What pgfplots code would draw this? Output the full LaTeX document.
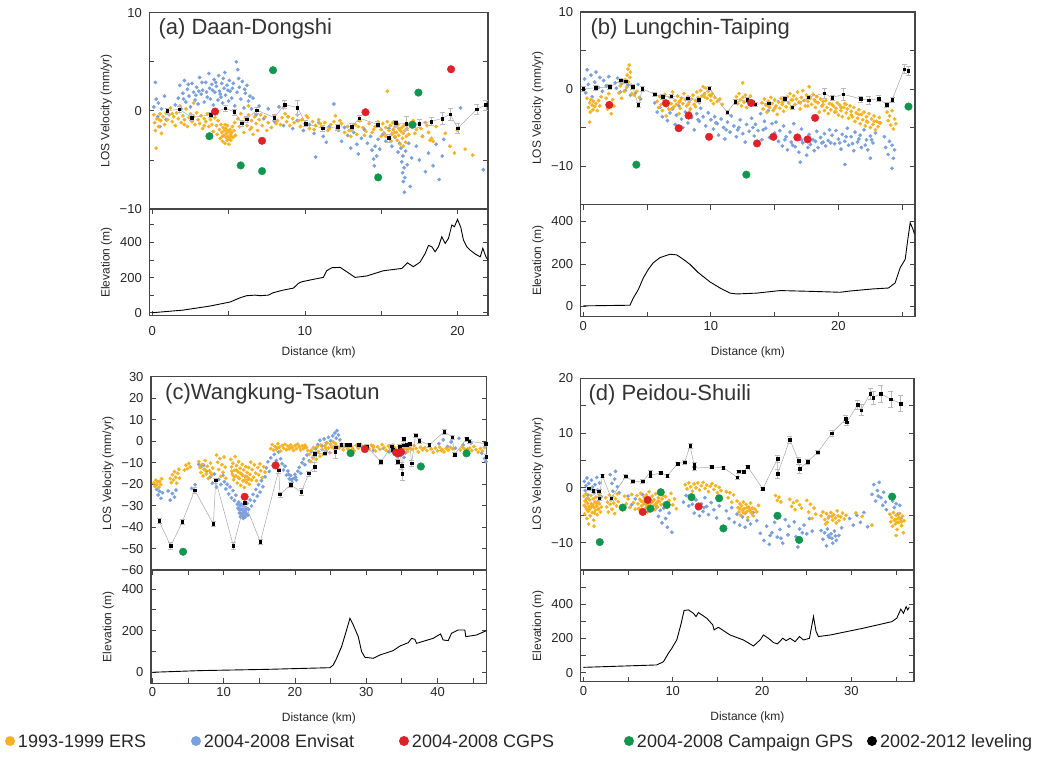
\documentclass[border=0pt]{standalone}
\usepackage{fontspec}
\setmainfont{Liberation Sans}
\usepackage{pgfplots}
\pgfplotsset{compat=1.18}

\definecolor{ersc}{RGB}{246,178,36}
\definecolor{envc}{RGB}{122,160,222}
\definecolor{cgpsc}{RGB}{222,34,40}
\definecolor{campc}{RGB}{16,150,78}
\definecolor{framec}{RGB}{70,70,70}

\tikzset{ttl/.style={anchor=base west, font=\fontsize{22}{22}\selectfont, text=black!80}}
\pgfplotsset{
  base/.style={scale only axis, clip mode=individual,
    axis line style={framec, line width=1.2pt},
    tick style={framec, line width=0.8pt},
    major tick length=5pt, minor tick length=5pt, tick align=inside,
    xtick pos=both, ytick pos=both,
    ticklabel style={font=\fontsize{13}{13}\selectfont, text=black!85},
    label style={font=\fontsize{12}{12}\selectfont, text=black!85},
    /pgf/number format/assume math mode=true,
    yticklabel shift=4pt, ylabel shift=1pt},
  los/.style={base, xtick=\empty, ylabel={LOS Velocity (mm/yr)}},
  elev/.style={base, ylabel={Elevation (m)}, xlabel={Distance (km)}, xlabel shift=9pt},
  ers/.style={only marks, mark=*, mark size=1.7pt, color=ersc},
  env/.style={only marks, mark=*, mark size=1.7pt, color=envc},
  cg/.style={only marks, mark=*, mark size=3.8pt, color=cgpsc},
  camp/.style={only marks, mark=*, mark size=3.8pt, color=campc},
  lev/.style={color=gray!70, line width=0.5pt, mark=square*, mark size=1.3pt,
    mark options={fill=black, draw=black},
    error bars/.cd, y dir=both, y explicit,
    error bar style={gray!55, line width=0.5pt},
    error mark options={rotate=90, gray!55, mark size=2.5pt, line width=0.5pt}},
  prof/.style={black, line width=0.9pt},
}

\begin{document}
\begin{tikzpicture}
\useasboundingbox (0pt,0pt) rectangle (1051pt,-756pt);

% ---------- (a) Daan-Dongshi ----------
\begin{axis}[los, at={(149.3pt,-12.7pt)}, anchor=north west, width=338.7pt, height=196.3pt,
  xmin=-0.2, xmax=22, ymin=-10, ymax=10, ytick={-10,0,10}, yticklabels={−10,0,10}, minor ytick={-5,5}]
\addplot[env] coordinates {(0.1,0.4) (0.2,2.9) (0.25,1.2) (0.35,-0.6) (0.4,0.8) (0.5,-1.6) (0.6,0.2) (0.8,1.5) (0.9,-0.9)
(1.5,0.6) (1.7,1.3) (1.8,2.6) (1.9,0.2) (2.0,1.8) (2.05,1.2) (2.1,3.1) (2.2,0.9) (2.3,2.2) (2.35,2.7) (2.4,1.5) (2.5,0.4) (2.6,2.8) (2.7,1.9) (2.8,1.1) (2.85,1.6) (2.9,2.4) (3.0,0.7) (3.05,2.0) (3.1,3.4) (3.2,1.7) (3.25,2.9) (3.3,2.1) (3.4,0.9) (3.5,2.9) (3.55,1.9) (3.6,1.4) (3.7,3.8) (3.75,2.3) (3.8,1.2) (3.9,2.7) (3.95,2.1) (4.0,0.6) (4.05,3.2) (4.1,1.9) (4.15,2.9) (4.2,2.5) (4.3,1.1) (4.35,3.6) (4.4,2.0) (4.45,1.7) (4.5,1.4) (4.55,2.8) (4.6,0.8) (4.65,3.3) (4.7,2.3) (4.75,3.9) (4.8,1.6) (4.9,2.6) (4.95,2.1) (5.0,1.0) (5.05,3.1) (5.1,2.0) (5.2,1.3) (5.25,2.3) (5.3,2.8) (5.4,0.5) (5.5,5.0) (5.55,1.9) (5.6,4.2) (5.65,3.3) (5.7,2.4) (5.8,1.2) (5.9,3.0) (6.0,0.3) (6.05,2.2) (6.1,1.8) (6.2,2.6) (6.3,1.0) (6.4,1.5) (6.5,0.2) (6.6,1.3) (6.8,-0.4) (7.0,0.5)
(7.3,-0.8) (7.6,0.2) (8.0,-1.1) (8.3,0.4) (8.6,-1.5) (8.9,-0.6) (9.2,-1.8) (9.5,-1.0) (9.9,-2.0) (10.3,-1.4) (10.6,-2.3) (10.7,-4.7) (10.9,-1.2) (11.2,-2.6) (11.4,-3.2) (11.6,-1.6) (11.9,0.7)
(12.2,-2.0) (12.4,-3.1) (12.6,-1.7) (12.8,-2.5) (13.0,-3.8) (13.2,-2.2) (13.4,-3.4) (13.5,-4.4) (13.7,-2.8) (13.9,-1.9)
(14.1,-3.3) (14.3,-2.6) (14.4,-4.0) (14.5,-4.9) (14.55,-5.6) (14.6,-3.6) (14.7,-4.6) (14.8,-2.9) (14.9,-3.9)
(15.1,-2.4) (15.3,-3.1) (15.5,-1.8) (15.7,-3.6) (15.9,-2.7) (16.1,-4.2) (16.2,-3.3)
(16.3,-3.8) (16.35,-5.2) (16.4,-6.3) (16.42,-4.6) (16.45,-7.2) (16.5,-5.8) (16.52,-8.3) (16.55,-6.8) (16.6,-4.1) (16.7,-5.5) (16.8,-3.3) (16.9,-7.7) (17.0,-4.8)
(17.3,-3.6) (17.5,-5.0) (17.7,-2.6) (17.9,-6.2) (18.1,-4.3) (18.4,-5.6) (18.6,-3.4) (18.8,-7.0) (19.0,-4.6) (19.1,-2.9) (20.2,0.3) (21.7,-6.0)};
\addplot[ers] coordinates {(0.1,-0.4) (0.15,-1.2) (0.2,-2.0) (0.25,-3.8) (0.3,-0.8) (0.4,-1.6) (0.45,-0.9) (0.5,-0.3) (0.55,-1.0) (0.6,-2.3) (0.7,-0.6) (0.8,-1.4) (0.9,-0.2) (1.0,-0.9)
(1.1,-0.4) (1.2,0.3) (1.3,-1.1) (1.3,-0.3) (1.4,-0.6) (1.5,-1.5) (1.6,-0.2) (1.7,-0.8) (1.8,0.5) (1.9,-1.2) (2.0,-0.5) (2.1,-0.9) (2.1,-1.4) (2.2,0.2) (2.3,-1.6) (2.4,-0.7) (2.5,-0.3) (2.6,-1.1) (2.7,-0.6) (2.7,0.8) (2.8,-1.4) (2.9,-0.2) (3.0,-0.9)
(3.1,-1.3) (3.2,-0.5) (3.3,-1.8) (3.4,-0.8) (3.4,-1.5) (3.5,-1.1) (3.6,-0.3) (3.7,-1.6) (3.8,-0.9) (3.9,-1.4) (4.0,-2.1)
(4.1,-0.7) (4.2,-1.5) (4.25,-2.4) (4.3,-1.0) (4.4,-1.9) (4.45,-2.8) (4.5,-1.4) (4.55,-2.2) (4.6,-3.1) (4.6,-2.6) (4.65,-1.7) (4.7,-2.5) (4.72,-2.0) (4.75,-3.3) (4.78,-1.4) (4.8,-1.8) (4.82,-2.7) (4.85,-2.3) (4.88,-2.0) (4.9,-3.0) (4.92,-1.5) (4.95,-2.6) (5.0,-2.1) (5.0,-2.9) (5.02,-3.4) (5.05,-2.8) (5.1,-1.9) (5.12,-2.4) (5.15,-3.0) (5.18,-2.6) (5.2,-2.2) (5.25,-1.6) (5.3,-2.7) (5.35,-2.0) (5.4,-1.2) (5.45,-2.5)
(5.6,-0.8) (5.7,-1.6) (5.8,-0.3) (5.9,-1.2) (6.0,-2.2) (6.1,-0.7) (6.2,-1.5) (6.3,-0.4) (6.3,0.5) (6.4,-1.9) (6.5,-1.0) (6.5,-1.7) (6.6,-2.4) (6.7,-0.6) (6.8,-1.3) (6.9,-2.0)
(7.0,-0.9) (7.1,-0.4) (7.2,-1.5) (7.4,-0.6) (7.5,-2.0) (7.6,-1.2) (7.8,-1.7)
(8.0,-0.5) (8.1,-1.3) (8.2,-1.0) (8.4,-1.4) (8.5,-0.7) (8.6,0.3) (8.7,-0.3) (8.8,-1.1) (8.9,-0.6) (9.0,-1.5) (9.2,-0.8) (9.3,-1.2) (9.5,-0.4) (9.6,-1.0) (9.7,-1.6) (9.8,-0.9) (10.0,-1.3) (10.1,-0.5) (10.2,-0.7) (10.3,-1.8) (10.5,-1.1) (10.6,-1.9) (10.7,-1.5) (10.9,-0.9)
(11.0,-1.3) (11.1,-1.6) (11.3,-1.2) (11.5,-2.0) (11.6,-1.8) (11.7,-1.4) (11.9,-1.1) (12.0,-0.5) (12.1,-1.8) (12.3,-1.0) (12.4,-1.3) (12.6,-2.2) (12.8,-1.6) (12.9,-2.0) (13.0,-2.6) (13.1,-1.9) (13.3,-1.4) (13.4,-2.4) (13.5,-1.6) (13.6,-1.0) (13.8,-1.7) (13.9,-2.5) (14.0,-2.1)
(14.2,-1.3) (14.4,-2.2) (14.5,-1.9) (14.6,-1.6) (14.8,-1.1) (15.0,-1.9) (15.0,-2.6) (15.4,2.0)
(15.1,-1.3) (15.2,-2.3) (15.3,-1.7) (15.3,-2.6) (15.4,-1.1) (15.5,-2.0) (15.55,-2.8) (15.6,-1.5) (15.65,-3.1) (15.7,-2.4) (15.75,-1.2) (15.8,-1.9) (15.85,-2.2) (15.9,-2.6) (15.95,-1.6) (16.0,-2.2) (16.05,-3.0) (16.1,-1.4) (16.15,-2.5) (16.15,-1.8) (16.2,-1.9) (16.25,-3.4) (16.3,-2.1) (16.35,-1.7) (16.4,-2.8) (16.45,-2.3) (16.45,-3.6) (16.5,-1.5) (16.55,-2.0) (16.6,-3.2) (16.65,-2.6) (16.7,-1.8) (16.75,-1.4) (16.8,-2.4) (16.9,-1.3)
(17.1,-1.0) (17.2,-2.3) (17.3,-1.9) (17.5,-1.4) (17.6,-1.8) (17.7,-2.6) (17.9,-1.2) (18.0,-1.5) (18.1,-2.2) (18.2,-3.0) (18.3,-2.8) (18.4,-3.1) (18.6,-1.6)
(19.2,-2.3) (19.5,-3.6) (19.8,-4.3) (20.0,-2.0) (20.5,-3.9) (21.0,-4.5)};
\addplot[lev] coordinates {(0.98,0) +- (0,0.3) (1.75,0.17) +- (0,0.3) (2.58,-0.68) +- (0,0.3) (3.83,-0.4) +- (0,0.3) (4.77,0.27) +- (0,0.3) (5.36,-0.1) +- (0,0.3) (5.86,-1.25) +- (0,0.3) (6.19,-0.85) +- (0,0.3) (6.84,0.07) +- (0,0.3) (8.0,-0.68) +- (0,0.3) (8.66,0.64) +- (0,0.4) (9.51,0.34) +- (0,0.7) (10.05,-1.29) +- (0,0.3) (11.15,-1.76) +- (0,0.3) (12.15,-1.63) +- (0,0.3) (13.07,-1.63) +- (0,0.4) (13.57,-0.75) +- (0,0.3) (14.78,-1.39) +- (0,0.3) (15.5,-2.75) +- (0,0.4) (15.96,-1.22) +- (0,0.3) (16.63,-1.29) +- (0,0.7) (17.5,-1.29) +- (0,0.4) (18.27,-1.08) +- (0,0.4) (18.99,-0.78) +- (0,0.6) (19.52,-0.34) +- (0,0.6) (20.02,-1.76) +- (0,0.5) (21.27,0.17) +- (0,0.5) (21.86,0.61) +- (0,0.5)};
\addplot[cg] coordinates {(4.11,-0.07) (7.19,-3.05) (13.97,-0.14) (19.58,4.24)};
\addplot[camp] coordinates {(3.74,-2.58) (7.91,4.14) (5.79,-5.56) (7.19,-6.14) (14.8,-6.78) (17.44,1.86) (17.05,-1.42)};
\node[ttl] at (rel axis cs:0,1) [xshift=5.7pt, yshift=-21.3pt] {(a) Daan-Dongshi};
\end{axis}
\begin{axis}[elev, at={(149.3pt,-209pt)}, anchor=north west, width=338.7pt, height=106.7pt,
  xmin=-0.2, xmax=22, ymin=-17, ymax=590, xtick={0,10,20}, minor xtick={5,15},
  ytick={0,200,400}, minor ytick={100,300,500}, xticklabel shift=7pt, xlabel shift=4pt]
\addplot[prof] coordinates {(0,0) (2.03,15) (3.78,38) (5.1,61) (5.75,85) (6.19,97) (6.73,100) (7.06,97) (7.6,100) (7.93,114) (8.59,129) (9.25,140) (9.57,167) (9.79,176) (10.56,190) (11.21,201) (11.43,239) (11.76,256) (12.31,258) (12.74,233) (13.29,201) (14.05,209) (15.15,239) (16.35,252) (16.72,284) (17.11,262) (17.55,288) (17.88,337) (18.1,383) (18.32,375) (18.53,347) (18.75,375) (18.97,432) (19.19,394) (19.41,423) (19.63,499) (19.8,489) (20.0,531) (20.22,485) (20.39,413) (20.61,375) (20.83,356) (21.16,334) (21.49,318) (21.66,366) (21.88,315) (22,300)};
\end{axis}

% ---------- (b) Lungchin-Taiping ----------
\begin{axis}[los, at={(580.7pt,-12pt)}, anchor=north west, width=334.3pt, height=192.5pt,
  xmin=-0.2, xmax=26, ymin=-15, ymax=10, ytick={-10,0,10}, yticklabels={−10,0,10}, minor ytick={-5,5}]
\addplot[env] coordinates {(0.1,1.3) (0.2,-0.5) (0.3,2.5) (0.4,0.6) (0.6,1.8) (0.7,-1.0) (0.9,0.9) (1.0,2.2) (1.2,0.2) (1.3,1.5) (1.5,-0.3) (1.6,1.1) (1.8,0.4) (2.0,1.6)
(2.5,0.8) (2.6,0.1) (2.7,1.4) (2.9,-0.4) (3.0,0.7) (3.2,1.1) (3.3,-0.2) (3.5,0.5) (3.7,-0.8) (3.9,0.3) (4.1,-0.5) (4.3,0.6) (4.5,-1.3)
(5.6,-1.8) (5.8,-3.0) (6.0,-2.4) (6.2,-3.6) (6.4,-2.0) (6.6,-4.1) (6.8,-3.1) (7.0,-2.6) (7.2,-4.6) (7.3,-3.4) (7.5,-2.2) (7.7,-3.9) (7.8,-5.0) (8.0,-3.0) (8.1,-3.6) (8.2,-4.4) (8.4,-2.6) (8.5,-3.7) (8.7,-5.3) (8.9,-3.2) (9.0,-4.0) (9.1,-4.2) (9.2,-2.5) (9.4,-3.6) (9.6,-4.8) (9.8,-3.1) (10.0,-4.0)
(10.2,-5.2) (10.3,-3.6) (10.4,-4.4) (10.5,-4.5) (10.6,-6.0) (10.8,-3.9) (11.0,-5.0) (11.1,-6.5) (11.2,-5.3) (11.3,-4.3) (11.5,-5.6) (11.6,-3.5) (11.8,-4.8) (12.0,-6.2) (12.1,-5.3) (12.2,-5.0) (12.3,-4.0) (12.5,-5.8) (12.7,-6.9) (12.8,-4.6)
(13.0,-5.5) (13.2,-3.8) (13.3,-5.0) (13.4,-6.1) (13.5,-4.6) (13.7,-5.4) (13.9,-3.2) (14.0,-6.6) (14.1,-5.3) (14.2,-4.2) (14.3,-5.1) (14.5,-2.8) (14.6,-6.3) (14.8,-4.5) (15.0,-5.7)
(15.1,-4.3) (15.3,-6.8) (15.4,-5.4) (15.6,-7.4) (15.7,-4.8) (15.8,-6.6) (15.9,-6.2) (16.0,-7.9) (16.2,-5.6) (16.3,-6.9) (16.4,-7.3) (16.5,-4.5) (16.6,-7.5) (16.8,-6.1) (16.9,-8.2) (17.0,-9.5) (17.1,-5.2) (17.1,-6.6) (17.2,-7.0) (17.4,-6.4) (17.5,-8.6) (17.6,-7.6) (17.7,-5.9) (17.8,-7.2) (18.0,-6.6) (18.1,-8.0) (18.2,-6.8) (18.3,-5.5) (18.4,-7.6) (18.6,-6.3) (18.7,-7.0) (18.8,-6.9) (18.9,-5.8) (19.0,-7.4) (19.2,-6.7) (19.3,-5.3) (19.4,-7.0) (19.5,-6.0)
(19.7,-7.1) (19.8,-5.4) (20.0,-6.5) (20.1,-7.0) (20.2,-7.8) (20.3,-5.9) (20.5,-6.8) (20.5,-9.8) (20.6,-6.2) (20.7,-5.1) (20.8,-7.3) (21.0,-6.2) (21.1,-7.1) (21.2,-8.0) (21.3,-5.6) (21.5,-6.9) (21.6,-6.5) (21.7,-6.0) (21.8,-7.6) (22.0,-5.3) (22.1,-7.3) (22.2,-6.6) (22.3,-7.9) (22.5,-6.1) (22.5,-9.0) (22.6,-6.6) (22.7,-7.0) (22.9,-5.7)
(23.6,-6.2) (23.7,-7.6) (23.9,-8.5) (24.0,-6.8) (24.2,-7.3) (24.2,-10.3) (24.3,-9.0) (24.4,-7.9)};
\addplot[ers] coordinates {(0.3,-1.2) (0.4,-2.4) (0.5,-1.8) (0.5,-4.3) (0.55,-3.0) (0.6,-1.4) (0.7,-2.1) (0.75,-2.7) (0.8,-1.6) (0.9,-2.3) (1.0,-1.9) (1.1,-2.8) (1.2,-1.5) (1.3,-2.2) (1.4,-1.0)
(1.8,-1.2) (1.9,-2.6) (2.0,-0.6) (2.1,-1.8) (2.2,-3.2) (2.3,-1.4) (2.4,-2.2)
(2.8,-0.5) (2.9,0.4) (3.0,-1.2) (3.1,0.8) (3.2,-0.3) (3.3,1.2) (3.4,0.2) (3.45,1.8) (3.5,2.6) (3.55,0.9) (3.6,3.1) (3.65,1.5) (3.7,2.2) (3.75,0.5) (3.8,-0.6)
(3.9,0.1) (4.0,-0.8) (4.2,-0.3) (4.4,-1.1)
(5.8,-1.6) (5.9,-2.4) (6.0,-1.0) (6.1,-2.0) (6.2,-2.8) (6.3,-1.4) (6.3,-1.9) (6.4,-0.7) (6.5,-2.2) (6.5,-3.5) (6.6,-1.7) (6.7,-2.6) (6.8,-1.1) (6.9,-1.9) (6.9,-2.6) (7.0,-0.4) (7.1,-2.3) (7.2,-1.5) (7.3,-2.0) (7.4,-0.9) (7.5,-1.7) (7.5,-3.2) (7.6,-2.5) (7.6,-1.5) (7.7,-1.2) (7.8,-1.9) (7.9,-0.6) (8.0,-1.4) (8.1,-2.2) (8.2,-1.0) (8.2,-2.0) (8.3,-1.7) (8.3,-3.0) (8.4,-2.6) (8.5,-1.3) (8.6,-0.8) (8.7,-2.0) (8.8,-1.5) (8.8,-2.3) (8.9,-0.4) (9.0,-1.1) (9.1,-1.8) (9.2,-0.2) (9.3,-0.9) (9.4,0.3) (9.5,-0.6) (9.5,-1.0) (9.6,0.1) (9.7,-1.2) (9.8,-0.3) (9.9,-0.8) (10.0,-1.5) (10.0,-0.9) (10.1,-0.6) (10.2,-1.9) (10.3,-1.1) (10.5,-1.6) (10.7,-1.3) (10.9,-2.0)
(12.0,-1.0) (12.1,-1.9) (12.2,-0.6) (12.3,-1.4) (12.4,-2.2) (12.5,-1.1) (12.5,0.8) (12.6,-1.7) (12.7,-0.8) (12.8,-2.4) (12.9,-1.3) (13.0,-1.9) (13.1,-0.9) (13.2,-1.6)
(14.0,-1.8) (14.1,-2.6) (14.2,-1.3) (14.3,-2.1) (14.4,-3.0) (14.5,-1.6) (14.5,-2.2) (14.6,-2.4) (14.7,-1.1) (14.8,-1.9) (14.9,-2.8) (15.0,-1.4) (15.0,-2.5) (15.1,-2.2) (15.2,-3.3) (15.3,-1.7) (15.4,-2.5) (15.5,-1.2) (15.6,-2.0) (15.6,-1.7) (15.7,-2.9) (15.8,-1.5) (15.9,-2.3)
(16.0,-1.0) (16.1,-1.8) (16.2,-0.6) (16.3,-2.4) (16.3,-1.4) (16.4,-1.4) (16.5,-0.9) (16.6,-2.0) (16.7,-1.3) (16.8,-0.4) (16.9,-1.7) (17.0,-2.6) (17.0,-1.8) (17.1,-1.1) (17.2,-0.2) (17.3,-1.5) (17.4,-2.2) (17.5,-0.8) (17.6,-1.6) (17.6,-2.2) (17.7,0.3) (17.8,-1.2) (17.9,-2.0) (18.0,-0.7) (18.1,-1.4) (18.2,-2.4) (18.2,-1.6) (18.3,-1.0) (18.4,-1.8) (18.5,-3.0) (18.6,-1.3) (18.7,-2.2) (18.8,-1.6) (18.8,-2.0) (18.9,-2.8)
(19.0,-1.5) (19.1,-2.4) (19.2,-3.2) (19.3,-1.9) (19.4,-2.7) (19.5,-1.3) (19.5,-2.0) (19.6,-2.2) (19.7,-3.0) (19.8,-2.5) (19.8,-3.0) (19.9,-1.8) (20.0,-3.4) (20.1,-2.1) (20.2,-2.8) (20.2,-2.4) (20.3,-3.6) (20.4,-2.4) (20.5,-1.9) (20.6,-3.1) (20.6,-2.0) (20.7,-2.6) (20.8,-3.8) (20.9,-2.2)
(21.0,-2.9) (21.0,-3.4) (21.1,-3.6) (21.2,-2.4) (21.3,-4.2) (21.4,-3.1) (21.5,-3.8) (21.6,-2.7) (21.6,-3.3) (21.7,-4.5) (21.8,-3.3) (21.9,-4.0) (22.0,-3.0) (22.1,-4.8) (22.2,-3.6) (22.2,-4.2) (22.3,-4.3) (22.4,-3.2) (22.5,-5.0) (22.6,-3.9) (22.7,-4.6) (22.8,-3.5) (22.8,-4.2) (22.9,-5.3) (23.0,-4.2) (23.1,-4.9) (23.2,-3.7) (23.2,-4.4) (23.3,-4.4)
(23.8,-3.0) (23.9,-4.1) (24.0,-3.5) (24.1,-4.7) (24.2,-2.8) (24.3,-5.2) (24.4,-3.9) (24.5,-4.5)};
\addplot[lev] coordinates {(0,0) +- (0,0.3) (0.99,0.17) +- (0,0.3) (2.09,0.26) +- (0,0.3) (2.93,1.12) +- (0,0.3) (3.32,0.99) +- (0,0.3) (3.87,0.26) +- (0,0.3) (4.31,-2.07) +- (0,0.3) (4.63,0) +- (0,0.3) (5.62,-0.69) +- (0,0.3) (6.22,-1.03) +- (0,0.3) (6.9,-0.95) +- (0,0.3) (8.21,-1.21) +- (0,0.3) (9.05,-1.38) +- (0,0.3) (9.88,0.09) +- (0,0.3) (11.27,-3.02) +- (0,0.3) (11.9,-1.68) +- (0,0.3) (12.86,-1.38) +- (0,0.3) (13.28,-1.72) +- (0,0.3) (13.49,-1.98) +- (0,0.3) (14.54,-1.85) +- (0,0.3) (15.79,-1.25) +- (0,0.3) (16.39,-2.37) +- (0,0.3) (17.62,-1.08) +- (0,0.3) (18.88,-0.56) +- (0,0.6) (19.5,-1.12) +- (0,0.3) (20.39,-0.69) +- (0,0.8) (21.75,-1.29) +- (0,0.4) (22.38,-1.47) +- (0,0.5) (23.16,-1.25) +- (0,0.4) (23.79,-2.03) +- (0,0.3) (24.21,-1.42) +- (0,0.3) (25.15,2.59) +- (0,0.6) (25.46,2.37) +- (0,0.6)};
\addplot[cg] coordinates {(2.04,-2.07) (6.48,-1.85) (7.48,-5.09) (8.26,-3.45) (9.86,-6.21) (13.15,-1.81) (13.62,-7.07) (14.9,-6.21) (16.78,-6.29) (17.59,-6.55) (18.17,-3.75)};
\addplot[camp] coordinates {(4.16,-9.83) (12.78,-11.12) (25.49,-2.28)};
\node[ttl] at (rel axis cs:0,1) [xshift=6.3pt, yshift=-22pt] {(b) Lungchin-Taiping};
\end{axis}
\begin{axis}[elev, at={(580.7pt,-204.5pt)}, anchor=north west, width=334.3pt, height=112.2pt,
  xmin=-0.2, xmax=26, ymin=-48, ymax=480, xtick={0,10,20}, minor xtick={5,15,25},
  ytick={0,200,400}, minor ytick={100,300}, xticklabel shift=1pt]
\addplot[prof] coordinates {(0,3) (3.66,6) (3.92,40) (4.31,79) (4.71,135) (5.1,175) (5.49,206) (6.01,230) (6.8,246) (7.32,243) (7.84,222) (8.37,198) (9.02,159) (9.93,116) (10.72,87) (11.5,63) (12.03,59) (13.59,63) (15.42,75) (18.04,71) (20.13,67) (20.92,73) (22.75,83) (23.92,87) (24.44,111) (24.84,183) (25.23,222) (25.44,317) (25.62,394) (25.83,365) (25.96,341)};
\end{axis}

% ---------- (c) Wangkung-Tsaotun ----------
\begin{axis}[los, at={(151pt,-376.7pt)}, anchor=north west, width=335.7pt, height=193.3pt,
  xmin=-0.2, xmax=46.9, ymin=-60, ymax=30, ytick={-60,-50,...,30},
  yticklabels={−60,−50,−40,−30,−20,−10,0,10,20,30}]
\addplot[env] coordinates {(0.6,-22.5) (0.8,-25.1) (1.0,-23.4) (1.2,-26.6) (1.4,-24.0)
(2.2,-23.2) (2.5,-27.5) (2.8,-24.4) (3.1,-26.1) (3.3,-22.8)
(5.5,-22.0) (6.0,-20.3) (6.5,-10.8) (6.8,-12.0) (7.2,-11.2) (7.6,-14.0)
(8.1,-16.8) (8.4,-19.6) (8.7,-15.3) (9.0,-21.4) (9.3,-17.8) (9.6,-20.2) (9.9,-16.0)
(10.1,-18.9) (10.3,-22.3) (10.5,-20.1) (10.7,-24.6) (10.9,-21.3) (11.1,-26.4) (11.3,-23.0) (11.5,-27.6) (11.7,-25.2) (11.9,-29.3)
(12.0,-31.2) (12.1,-28.4) (12.15,-31.8) (12.2,-33.5) (12.25,-29.5) (12.3,-30.1) (12.35,-35.2) (12.4,-32.0) (12.45,-33.8) (12.5,-29.4) (12.55,-34.1) (12.6,-31.5) (12.65,-35.0) (12.7,-33.3) (12.75,-36.0) (12.8,-30.6) (12.85,-32.8) (12.9,-34.6) (12.95,-32.3) (13.0,-35.4) (13.05,-33.0) (13.1,-31.0) (13.2,-33.8) (13.25,-31.5) (13.3,-29.0) (13.4,-34.5) (13.5,-31.7)
(13.7,-27.4) (13.9,-30.2) (14.1,-24.8) (14.3,-27.9) (14.5,-22.5) (14.7,-25.6) (14.9,-20.3) (15.1,-23.7) (15.3,-18.4) (15.5,-21.2) (15.8,-16.6)
(16.0,-12.4) (16.2,-9.6) (16.4,-14.1) (16.6,-7.8) (16.9,-11.3) (17.1,-6.2) (17.4,-9.0) (17.7,-5.1) (18.0,-8.2)
(18.2,-10.5) (18.4,-13.4) (18.6,-11.6) (18.8,-15.8) (19.0,-13.9) (19.1,-15.5) (19.2,-17.6) (19.4,-16.0) (19.5,-18.0) (19.6,-19.2) (19.8,-17.4) (20.0,-15.5) (20.1,-16.8) (20.2,-18.1) (20.4,-14.0) (20.6,-12.2) (20.8,-15.0) (21.0,-10.1)
(21.2,-8.3) (21.4,-11.0) (21.7,-6.5) (22.0,-9.2) (22.3,-4.8) (22.6,-7.1) (22.9,-3.5)
(23.2,-1.6) (23.5,0.4) (23.8,-2.2) (24.1,1.0) (24.4,-0.8) (24.7,1.8) (25.0,0.2) (25.3,2.5) (25.6,3.8) (25.8,1.4) (25.9,4.9) (26.1,2.9) (26.3,0.6)
(27.0,-2.4) (28.2,-4.0) (29.5,-2.9) (31.0,-4.3) (32.4,-3.3) (33.2,-5.0)
(33.6,-3.6) (33.9,-5.8) (34.1,-4.4) (34.3,-7.0) (34.5,-5.2) (34.7,-3.8) (34.9,-6.4) (35.1,-4.7) (35.3,-7.6) (35.5,-5.5) (35.8,-3.9)
(40.2,-1.2) (40.8,0.6) (41.4,-2.5) (41.9,-0.4) (42.5,-3.3) (43.0,1.3) (43.6,-1.8) (44.2,-3.8) (44.7,-0.9)
(46.2,-5.6) (46.6,-8.1) (46.8,-9.5)};
\addplot[ers] coordinates {(0.2,-19.5) (0.35,-21.0) (0.5,-18.2) (0.6,-20.4) (0.75,-19.0) (0.9,-21.6) (1.0,-18.8) (1.15,-20.2) (1.3,-17.5)
(2.5,-17.4) (2.65,-19.3) (2.8,-15.6) (2.95,-18.1) (3.1,-14.2) (3.25,-16.8) (3.4,-19.6) (3.55,-15.0) (3.7,-13.1) (3.8,-17.2)
(4.5,-13.5) (4.7,-11.2) (4.9,-12.8) (5.1,-10.4) (5.3,-12.0)
(6.5,-9.5) (6.65,-12.3) (6.8,-14.6) (6.95,-10.8) (7.1,-16.2) (7.25,-13.1) (7.4,-9.0) (7.4,-13.5) (7.55,-15.3) (7.7,-11.7) (7.85,-17.4) (8.0,-13.8) (8.15,-10.2) (8.2,-14.8) (8.3,-15.9) (8.45,-12.5)
(9.0,-6.5) (9.15,-9.8) (9.3,-13.2) (9.45,-8.1) (9.6,-16.4) (9.75,-11.0) (9.9,-14.5) (10.05,-7.4) (10.2,-12.1) (10.3,-17.3)
(11.0,-8.5) (11.1,-12.0) (11.15,-14.0) (11.2,-15.4) (11.3,-10.3) (11.4,-18.0) (11.45,-16.5) (11.5,-13.6) (11.6,-7.2) (11.7,-16.2) (11.75,-13.5) (11.8,-11.4) (11.9,-19.5) (12.0,-14.3) (12.05,-17.0) (12.1,-9.6) (12.2,-17.4) (12.3,-12.6) (12.35,-15.0) (12.4,-20.6) (12.5,-15.3) (12.6,-10.8) (12.65,-16.0) (12.7,-18.5) (12.8,-13.4) (12.9,-21.6) (12.95,-18.0) (13.0,-16.3) (13.1,-11.9) (13.2,-19.2) (13.25,-16.5) (13.3,-14.6) (13.4,-17.8) (13.5,-12.3) (13.55,-17.5) (13.6,-20.1) (13.7,-15.5) (13.8,-9.8) (13.9,-18.2)
(14.0,-13.2) (14.2,-16.8) (14.3,-11.0) (14.5,-14.9) (14.6,-18.4) (14.8,-12.3) (14.9,-15.7) (15.1,-10.6) (15.2,-13.8) (15.4,-17.0) (15.6,-11.9) (15.8,-14.4)
(16.6,-3.5) (16.8,-1.6) (17.0,-4.2) (17.2,-2.5) (17.4,-3.8) (17.5,-3.2) (17.6,-1.2) (17.8,-2.9) (18.0,-4.6) (18.2,-2.0) (18.4,-3.3) (18.6,-1.5) (18.8,-4.0) (19.0,-2.4) (19.2,-3.6) (19.4,-1.8) (19.5,-3.0) (19.6,-2.8) (19.8,-4.3) (20.0,-2.1) (20.2,-3.4) (20.4,-1.4) (20.6,-2.7) (20.8,-4.1) (21.0,-2.3) (21.2,-3.5) (21.4,-1.9) (21.5,-2.6) (21.6,-3.0) (21.8,-4.4)
(22.0,-6.1) (22.2,-9.5) (22.3,-4.2) (22.5,-7.8) (22.6,-3.0) (22.8,-5.6) (23.0,-8.4) (23.0,-5.5) (23.1,-2.6) (23.3,-4.9) (23.5,-7.0) (23.6,-1.8) (23.8,-3.9) (24.0,-6.2) (24.2,-2.2) (24.3,-3.2) (24.4,-4.6) (24.5,-0.8) (24.7,-3.2) (24.9,-5.4) (25.0,-1.5) (25.2,-2.8) (25.4,-0.4) (25.5,-3.6) (25.7,-1.2) (25.9,-2.4)
(26.2,-3.1) (26.5,-1.4) (26.8,-4.0) (27.1,-2.2) (27.4,-3.5) (27.7,-1.7) (28.0,-2.9) (28.0,-4.0) (28.3,-4.5) (28.6,-2.0) (28.9,-3.3) (29.2,-1.5) (29.5,-2.7) (29.8,-4.2) (30.1,-2.4) (30.4,-3.6) (30.7,-1.9) (31.0,-3.0) (31.0,-2.2) (31.3,-4.6) (31.6,-2.6) (31.9,-3.8) (32.2,-1.6) (32.5,-2.9) (32.8,-4.3) (33.1,-2.3) (33.4,-3.5) (33.5,-2.8) (33.7,-1.8) (34.0,-3.1) (34.3,-4.7) (34.6,-2.5) (34.9,-3.9) (35.2,-2.0) (35.5,-3.3) (35.8,-4.8) (36.0,-3.4) (36.1,-2.7) (36.4,-3.8) (36.7,-2.1) (37.0,-3.4) (37.3,-5.0) (37.6,-2.9) (37.9,-4.1) (38.0,-3.6) (38.2,-3.0) (38.5,-4.4) (38.8,-2.6) (39.1,-3.7) (39.4,-5.2) (39.7,-3.2) (40.0,-4.5) (40.3,-2.8) (40.5,-4.4) (40.6,-3.9) (40.9,-5.0) (41.2,-3.3) (41.5,-4.2) (41.8,-2.9) (42.1,-3.6) (43.2,-4.1) (43.5,-2.8) (43.8,-3.7) (44.0,-4.0) (44.1,-5.3) (44.5,-3.2) (44.8,-4.4) (45.1,-2.5) (45.4,-3.9) (45.7,-5.1) (46.0,-3.4) (46.3,-4.6) (46.6,-2.9)};
\addplot[lev] coordinates {(0.93,-37.2) +- (0,1.2) (2.57,-48.8) +- (0,1.5) (4.21,-37.5) +- (0,1.2) (5.93,-22.9) +- (0,1.2) (8.55,-38.6) +- (0,1.2) (8.88,-18.3) +- (0,1.2) (11.36,-48.8) +- (0,1.5) (12.94,-28.6) +- (0,2) (15.14,-46.9) +- (0,1.2) (17.71,-13.6) +- (0,1.2) (17.9,-24.8) +- (0,1.2) (19.39,-20.4) +- (0,1.2) (20.89,-23.6) +- (0,1.5) (21.96,-15.0) +- (0,1.2) (22.76,-12.0) +- (0,2) (22.8,-5.9) +- (0,1.2) (24.16,-5.6) +- (0,1.2) (25.65,-4.9) +- (0,3) (25.75,-2.8) +- (0,1) (26.5,-1.8) +- (0,1) (27.24,-1.8) +- (0,1) (27.7,-1.8) +- (0,1) (28.93,-1.8) +- (0,1) (30.05,-2.5) +- (0,1) (32.06,-9.6) +- (0,1) (33.6,-2.3) +- (0,1) (33.7,-4.1) +- (0,1) (34.25,-5.4) +- (0,1) (34.44,-9.6) +- (0,1) (34.7,-2.6) +- (0,1) (34.95,-11.5) +- (0,1.5) (35.05,-15.3) +- (0,3) (35.23,-2.0) +- (0,1) (35.28,1.0) +- (0,1) (35.65,-1.8) +- (0,1) (36.12,-1.3) +- (0,1) (36.36,-10.3) +- (0,1.5) (36.92,2.8) +- (0,1) (37.43,0.2) +- (0,1) (38.83,-1.8) +- (0,1) (40.93,4.4) +- (0,1) (42.06,1.9) +- (0,1) (42.38,-6.2) +- (0,1) (44.07,1.0) +- (0,1) (44.44,0) +- (0,1) (46.78,-1.3) +- (0,1) (46.85,-7.3) +- (0,1)};
\addplot[cg] coordinates {(12.94,-25.9) (17.29,-11.3) (29.8,-3.7) (34.2,-5.3) (34.5,-5.7) (34.9,-5.0)};
\addplot[camp] coordinates {(4.3,-51.5) (27.8,-5.6) (37.66,-11.8) (44.07,-5.7)};
\node[ttl] at (rel axis cs:0,1) [xshift=10.7pt, yshift=-23pt] {(c)Wangkung-Tsaotun};
\end{axis}
\begin{axis}[elev, at={(151pt,-570pt)}, anchor=north west, width=335.7pt, height=113.3pt,
  xmin=-0.2, xmax=46.9, ymin=-53, ymax=491, xtick={0,10,...,40}, minor xtick={5,15,...,45},
  ytick={0,200,400}, minor ytick={100,300}, xticklabel shift=1pt]
\addplot[prof] coordinates {(0,0) (6.68,8) (16.03,14) (24.9,22) (25.37,35) (25.84,67) (26.54,123) (27.24,203) (27.71,259) (28.18,227) (28.88,171) (29.35,99) (29.81,72) (30.98,67) (31.92,83) (33.79,104) (34.72,126) (35.89,142) (36.36,163) (36.82,158) (37.06,139) (39.39,163) (40.42,184) (40.79,155) (41.5,152) (41.96,187) (42.9,203) (43.83,203) (43.97,171) (45.47,179) (46.87,200)};
\end{axis}

% ---------- (d) Peidou-Shuili ----------
\begin{axis}[los, at={(580.7pt,-378.3pt)}, anchor=north west, width=333.3pt, height=191.7pt,
  xmin=-0.3, xmax=37, ymin=-15, ymax=20, ytick={-10,0,10,20}, yticklabels={−10,0,10,20}, minor ytick={-5,5,15}]
\addplot[env] coordinates {(0.1,1.2) (0.2,-0.5) (0.3,0.4) (0.4,1.8) (0.5,-1.3) (0.6,0.8) (0.7,-0.2) (0.9,1.4) (1.0,0.1) (1.2,-0.9) (1.3,0.6) (1.5,1.9) (1.6,-0.4) (1.8,0.9) (2.0,-1.6)
(3.0,2.4) (3.2,0.8) (3.3,-0.6) (3.5,1.6) (3.6,3.0) (3.8,0.2) (4.0,-0.9)
(5.0,-1.5) (5.4,-3.1) (5.8,-2.0) (6.2,-3.8) (6.6,-1.2) (7.0,-2.6)
(8.2,-3.5) (8.4,-5.2) (8.6,-4.1) (8.8,-6.4) (9.0,-3.7) (9.2,-5.6) (9.4,-7.2) (9.6,-4.6) (9.9,-8.1)
(11.2,-2.6) (11.5,-1.4) (11.8,-3.3)
(12.2,-3.0) (12.4,-4.6) (12.6,-2.2) (12.8,-3.8) (13.0,-5.1) (13.2,-2.9) (13.4,-4.3) (13.5,-3.6) (13.6,-1.8) (13.8,-3.4) (14.0,-4.9) (14.3,-2.7) (14.6,-4.0) (14.9,-5.5) (15.2,-3.3)
(16.0,-4.2) (16.3,-5.6) (16.6,-3.6) (16.9,-6.3) (17.2,-4.8) (17.5,-6.8) (17.8,-5.3) (18.1,-7.2) (18.4,-5.9) (18.7,-6.6) (19.0,-4.5) (19.4,-6.0) (19.8,-8.3)
(20.2,-9.6) (20.5,-7.0) (20.8,-10.3) (20.9,-8.7) (21.1,-8.2) (21.4,-6.3) (21.7,-9.0) (22.0,-7.6) (22.1,-9.2) (22.3,-10.1) (22.6,-5.8) (22.9,-8.6) (23.0,-7.0)
(23.6,-6.2) (23.8,-8.9) (24.0,-10.8) (24.2,-7.5) (24.4,-9.6) (24.5,-8.2) (24.7,-6.8) (25.0,-8.4) (25.3,-5.6) (25.6,-7.9)
(26.6,-7.8) (26.8,-9.4) (27.0,-8.2) (27.2,-10.6) (27.3,-7.5) (27.4,-8.7) (27.5,-9.0) (27.7,-8.4) (27.8,-9.2) (27.9,-10.1) (28.1,-7.9) (28.2,-8.8) (28.3,-9.6) (28.6,-8.7) (28.9,-7.3)
(29.8,-5.6) (30.2,-6.8) (30.6,-5.0) (31.0,-6.3) (31.4,-4.5) (31.8,-7.1)
(32.3,-1.2) (32.5,0.6) (32.7,-2.4) (32.9,-0.5) (33.0,-1.5) (33.1,1.0) (33.3,-1.8) (33.5,-3.2) (33.6,-0.8) (33.8,-2.6) (33.9,-4.0)
(34.6,-2.4) (34.8,-3.6) (35.0,-2.9) (35.2,-4.8) (35.4,-3.2) (35.6,-5.5)};
\addplot[ers] coordinates {(0.05,-1.5) (0.1,-3.2) (0.15,-4.8) (0.2,-2.4) (0.25,-3.5) (0.3,-1.1) (0.35,-3.9) (0.35,-2.0) (0.4,-5.6) (0.45,-2.8) (0.5,-1.9) (0.55,-4.3) (0.6,-3.4) (0.6,-6.6) (0.65,-4.0) (0.7,-2.2) (0.75,-5.1) (0.8,-3.7) (0.85,-1.4) (0.9,-2.9) (0.95,-3.3) (1.0,-4.5) (1.05,-3.1) (1.1,-2.0) (1.15,-5.9) (1.2,-3.6) (1.2,-7.0) (1.25,-4.6) (1.3,-2.6) (1.35,-4.1) (1.4,-1.7) (1.45,-2.8) (1.5,-3.3) (1.55,-4.9) (1.6,-2.5) (1.65,-3.9) (1.7,-3.8) (1.75,-1.2) (1.8,-2.9) (1.85,-2.0) (1.9,-4.4) (2.0,-3.5)
(2.5,-1.8) (2.6,-3.5) (2.7,-2.6) (2.8,-4.4) (2.9,-1.3) (3.0,-3.0) (3.1,-2.2) (3.2,-3.9) (3.3,-1.6) (3.4,-2.8) (3.5,-4.7) (3.6,-2.0) (3.7,-3.3) (3.8,-1.1) (3.9,-2.5)
(4.6,-1.5) (4.8,-2.9) (5.0,-2.0) (5.2,-3.6) (5.4,-1.2) (5.6,-2.7) (5.8,-3.9)
(6.0,-1.4) (6.1,-2.9) (6.2,-3.8) (6.3,-2.1) (6.4,-1.0) (6.45,-2.4) (6.5,-3.3) (6.6,-2.5) (6.7,-4.1) (6.75,-3.0) (6.8,-1.7) (6.9,-2.9) (6.95,-2.1) (7.0,-3.6) (7.05,-1.3) (7.1,-2.4) (7.15,-3.2) (7.2,-4.4) (7.3,-3.1) (7.35,-0.7) (7.4,-2.0) (7.45,-2.7) (7.5,-3.7) (7.6,-2.7) (7.7,-1.5) (7.75,-2.5) (7.8,-3.3) (7.9,-2.2) (8.0,-4.0) (8.05,-3.0) (8.1,-1.1) (8.2,-2.8) (8.3,-3.5) (8.35,-2.4) (8.4,-1.8) (8.5,-2.5) (8.6,-0.4) (8.7,-3.1) (8.8,-2.0) (8.9,-1.4)
(9.0,-2.9) (9.2,-1.6) (9.4,-3.6) (9.6,-2.3) (9.8,-1.0) (10.0,-3.1) (10.2,-2.0) (10.4,-3.8)
(11.4,0.6) (11.6,-0.2) (11.8,0.9) (12.0,0.2) (12.2,-0.6) (12.4,0.7) (12.6,0.0) (12.8,0.9) (13.0,-0.4) (13.2,0.4) (13.4,1.0) (13.6,-0.1) (13.8,0.5) (14.0,-0.7) (14.2,0.3) (14.4,0.8) (14.6,-0.3) (14.8,0.4) (15.0,-0.9) (15.2,0.1) (15.4,-0.5)
(16.0,-0.7) (16.2,-1.8) (16.4,-0.9) (16.6,-2.6) (16.8,-1.3)
(17.2,-2.4) (17.3,-3.6) (17.4,-4.4) (17.5,-2.9) (17.5,-3.8) (17.6,-5.0) (17.7,-3.3) (17.8,-4.1) (17.9,-2.6) (17.9,-4.5) (18.0,-3.8) (18.1,-4.7) (18.2,-3.0) (18.3,-4.3) (18.3,-3.6) (18.4,-5.4) (18.5,-3.5) (18.6,-4.0) (18.7,-2.8) (18.7,-4.3) (18.8,-4.6) (18.9,-3.7) (19.0,-5.1) (19.2,-3.9) (19.4,-4.4) (19.6,-3.2)
(21.5,-1.4) (21.7,-2.3) (21.9,-1.7) (22.1,-2.6)
(23.1,-2.1) (23.3,-3.4) (23.5,-2.7) (23.7,-4.0) (23.9,-2.4) (24.2,-3.1) (24.4,-3.7)
(25.0,-2.3) (25.2,-4.4) (25.4,-3.0) (25.6,-5.6) (25.8,-3.7) (26.0,-4.8)
(26.6,-5.1) (26.8,-4.4) (27.0,-5.8) (27.1,-6.6) (27.2,-4.7) (27.3,-6.3) (27.4,-5.5) (27.5,-5.2) (27.7,-4.5) (27.8,-5.2) (27.9,-5.9) (28.0,-4.9) (28.2,-5.5) (28.3,-6.4) (28.4,-4.2) (28.5,-5.1) (28.6,-6.0) (28.8,-5.3) (29.0,-4.6) (29.2,-5.7) (29.4,-5.0)
(30.5,-4.6) (31.2,-5.2) (32.3,-6.8)
(34.3,-4.8) (34.4,-6.2) (34.5,-5.4) (34.6,-7.0) (34.7,-4.5) (34.8,-5.9) (34.9,-6.6) (34.9,-5.8) (35.0,-5.0) (35.0,-8.7) (35.1,-7.6) (35.1,-6.3) (35.2,-5.6) (35.3,-6.3) (35.3,-5.4) (35.4,-4.7) (35.5,-5.8) (35.6,-6.9) (35.6,-6.2) (35.7,-5.2) (35.8,-8.2) (35.9,-6.0)};
\addplot[lev] coordinates {(0.63,-0.1) +- (0,0.3) (1.12,-0.5) +- (0,0.3) (1.75,-0.6) +- (0,0.3) (1.76,-1.9) +- (0,0.3) (2.13,2.2) +- (0,0.3) (3.13,-1.9) +- (0,0.3) (4.74,2.1) +- (0,0.3) (5.52,1.2) +- (0,0.3) (6.64,1.2) +- (0,0.3) (7.46,2.8) +- (0,0.4) (7.47,2.2) +- (0,0.3) (8.66,2.8) +- (0,0.3) (9.37,2.2) +- (0,0.3) (10.56,4.4) +- (0,0.3) (11.34,4.7) +- (0,0.4) (11.94,7.7) +- (0,0.4) (12.39,4.2) +- (0,0.4) (12.4,3.6) +- (0,0.3) (14.37,3.8) +- (0,0.3) (15.67,3.7) +- (0,0.3) (17.24,1.9) +- (0,0.3) (17.39,3.0) +- (0,0.3) (17.95,2.9) +- (0,0.3) (18.36,3.9) +- (0,0.3) (20.07,-0.2) +- (0,0.3) (21.72,5.3) +- (0,0.6) (21.75,2.6) +- (0,0.8) (23.1,8.8) +- (0,0.6) (24.1,4.9) +- (0,0.6) (24.18,3.5) +- (0,0.8) (25.11,4.8) +- (0,0.4) (26.23,6.5) +- (0,0.4) (27.8,10) +- (0,0.6) (29.37,12.6) +- (0,0.6) (29.48,12) +- (0,0.6) (30.7,15.2) +- (0,0.8) (31.08,14.2) +- (0,1) (32.09,17.2) +- (0,1) (32.46,16.5) +- (0,1.2) (33.28,17.2) +- (0,1.5) (34.4,16.2) +- (0,1.5) (35.49,15.4) +- (0,1.5)};
\addplot[cg] coordinates {(6.64,-4.4) (7.2,-2.2) (12.9,-3.4)};
\addplot[camp] coordinates {(1.83,-9.9) (4.4,-3.6) (7.5,-3.8) (8.66,-0.8) (9.33,-3.1) (12.1,-1.7) (15.19,-1.9) (15.67,-7.4) (21.72,-5.1) (24.14,-9.5) (34.55,-1.6)};
\node[ttl] at (rel axis cs:0,1) [xshift=4.3pt, yshift=-21.7pt] {(d) Peidou-Shuili};
\end{axis}
\begin{axis}[elev, at={(580.7pt,-570pt)}, anchor=north west, width=333.3pt, height=111.7pt,
  xmin=-0.3, xmax=37, ymin=-53, ymax=600, xtick={0,10,20,30}, minor xtick={5,15,25,35},
  ytick={0,200,400}, minor ytick={100,300,500}, xticklabel shift=1pt]
\addplot[prof] coordinates {(0,31) (8.21,45) (8.96,64) (9.51,113) (9.89,142) (10.45,191) (10.9,279) (11.27,363) (11.75,367) (12.31,347) (12.61,328) (12.87,351) (13.81,318) (14.48,279) (14.63,250) (15.11,265) (16.42,220) (17.91,191) (19.03,156) (19.78,191) (20.15,220) (20.71,201) (21.27,176) (21.72,168) (22.31,201) (22.69,187) (23.13,201) (23.69,181) (24.18,211) (24.63,191) (25.3,201) (25.75,328) (26.04,240) (26.31,211) (27.61,220) (31.34,260) (34.51,298) (35.07,318) (35.52,371) (35.82,347) (36.12,386) (36.3,367) (36.46,382)};
\end{axis}

% ---------- legend ----------
\begin{axis}[hide axis, scale only axis, width=10pt, height=10pt, at={(5pt,-742pt)}, anchor=west,
  xmin=0, xmax=1, ymin=0, ymax=1, legend columns=5,
  legend style={at={(axis description cs:0,0.5)}, anchor=west, draw=none, fill=none,
    inner sep=0pt, outer sep=0pt, font=\fontsize{18}{18}\selectfont, text=black!85,
    nodes={inner sep=0pt}, /tikz/every odd column/.style={column sep=3pt}},
  legend image code/.code={\path[#1, draw=none] (5pt,1pt) circle (5pt);}]
\addlegendimage{fill=ersc}
\addlegendentry{\makebox[173pt][l]{1993-1999 ERS}}
\addlegendimage{fill=envc}
\addlegendentry{\makebox[195pt][l]{2004-2008 Envisat}}
\addlegendimage{fill=cgpsc}
\addlegendentry{\makebox[212pt][l]{2004-2008 CGPS}}
\addlegendimage{fill=campc}
\addlegendentry{\makebox[230pt][l]{2004-2008 Campaign GPS}}
\addlegendimage{fill=black}
\addlegendentry{2002-2012 leveling}
\end{axis}
\end{tikzpicture}
\end{document}
